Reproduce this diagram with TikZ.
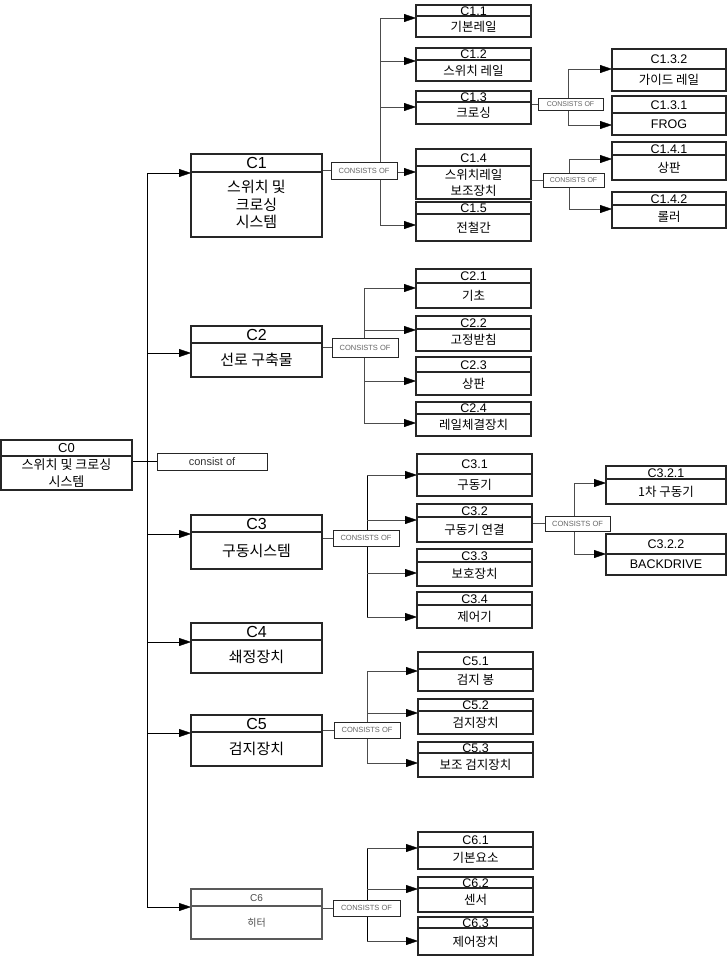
\documentclass[tikz,border=0pt]{standalone}
\usepackage{fontspec}
\setmainfont{Liberation Sans}
\newfontfamily\kr{Noto Sans CJK KR}
\usetikzlibrary{arrows.meta, backgrounds}

% box with a title row and a body row, plus the point where its arrow comes in
\newcommand{\cbox}[9]{%
    \node[head, minimum width=#4, minimum height=#5] (#1-h) at (#2,#3) {#7};
    \node[body, minimum width=#4, minimum height=#6] (#1) at (#1-h.south west) {#8};
    \coordinate (#1-in) at ([yshift=-#9]#1.north west);
}

\begin{document}
\begin{tikzpicture}[
            x = 1pt, y = -1pt, % one unit per pixel, y runs down
            > = {Triangle[length=12pt, width=8pt, color=black]}, % arrow head style
            line width = 1.3pt
        ]

        \tikzset{
            box/.style = {
                draw = black!85,
                fill = white,
                inner sep = 0pt,
                outer sep = 0pt,
                anchor = north west,
                align = center
            },
            head/.style = {box, font=\fontsize{12.5}{14}\selectfont, text height=9pt, text depth=0pt},
            body/.style = {box, font=\kr\fontsize{12.5}{16}\selectfont},
            mainlvl/.style = {
                head/.append style = {font=\fontsize{16}{18}\selectfont, text height=11.5pt},
                body/.append style = {font=\kr\fontsize{15}{17.5}\selectfont}
            },
            consists/.style = {
                draw = black!85,
                fill = white,
                line width = 1pt,
                inner sep = 0pt,
                font = \fontsize{7.5}{8}\selectfont,
                text = black!60
            },
            link/.style = {draw=black!70},
            trunk/.style = {draw=black}
        }

        \useasboundingbox (0,0) rectangle (728,956);

        % root
        \begin{scope}[head/.append style={font=\fontsize{13}{15}\selectfont, text height=9.5pt},
                      body/.append style={font=\kr\fontsize{13}{17}\selectfont}]
        \cbox{c0}{1}{440}{131}{16}{34}{C0}{스위치 및 크로싱\\시스템}{0}
        \end{scope}
        \node[consists, minimum width=110, minimum height=17, font=\fontsize{11}{12}\selectfont, text=black!80] (cons) at (212,461.5) {consist of};

        % first level
        \begin{scope}[mainlvl]
        \cbox{c1}{191}{154}{131}{18}{65}{C1}{스위치 및\\크로싱\\시스템}{1}
        \cbox{c2}{191}{326}{131}{17}{34}{C2}{선로 구축물}{10}
        \cbox{c3}{191}{515}{131}{17}{37}{C3}{구동시스템}{2}
        \cbox{c4}{191}{623}{131}{17}{33}{C4}{쇄정장치}{2}
        \cbox{c5}{191}{715}{131}{17}{34}{C5}{검지장치}{1}
        \end{scope}
        \begin{scope}[head/.append style={font=\fontsize{10}{12}\selectfont, text=black!70, text height=7pt},
                      body/.append style={font=\kr\fontsize{10}{12}\selectfont, text=black!70},
                      box/.append style={draw=black!65}]
        \cbox{c6}{191}{889}{131}{17}{33}{C6}{히터}{1}
        \end{scope}

        % second level
        \cbox{c11}{416}{5}{115}{11}{21}{C1.1}{기본레일}{2}
        \cbox{c12}{416}{48}{115}{12}{21}{C1.2}{스위치 레일}{1}
        \cbox{c13}{416}{91}{115}{11}{22}{C1.3}{크로싱}{5}
        \cbox{c14}{416}{149}{115}{17}{33}{C1.4}{스위치레일\\보조장치}{6}
        \cbox{c15}{416}{202}{115}{12}{27}{C1.5}{전철간}{11}

        \cbox{c21}{416}{269}{115}{14}{25}{C2.1}{기초}{5}
        \cbox{c22}{416}{316}{115}{13}{22}{C2.2}{고정받침}{1}
        \cbox{c23}{416}{357}{115}{15}{23}{C2.3}{상판}{9}
        \cbox{c24}{416}{402}{115}{12}{22}{C2.4}{레일체결장치}{9}

        \cbox{c31}{417}{454}{115}{20}{22}{C3.1}{구동기}{1}
        \cbox{c32}{417}{504}{115}{13}{25}{C3.2}{구동기 연결}{3}
        \cbox{c33}{417}{549}{115}{13}{24}{C3.3}{보호장치}{11}
        \cbox{c34}{417}{592}{115}{13}{23}{C3.4}{제어기}{12}

        \cbox{c51}{418}{652}{115}{17}{22}{C5.1}{검지 봉}{2}
        \cbox{c52}{418}{699}{115}{12}{23}{C5.2}{검지장치}{2}
        \cbox{c53}{418}{742}{115}{11}{24}{C5.3}{보조 검지장치}{10}

        \cbox{c61}{418}{832}{115}{15}{22}{C6.1}{기본요소}{1}
        \cbox{c62}{418}{877}{115}{11}{24}{C6.2}{센서}{1}
        \cbox{c63}{418}{917}{115}{11}{27}{C6.3}{제어장치}{13}

        % third level
        \cbox{c132}{612}{49}{114}{20}{22}{C1.3.2}{가이드 레일}{0}
        \cbox{c131}{612}{96}{114}{17}{22}{C1.3.1}{\normalfont FROG}{12}
        \cbox{c141}{612}{142}{114}{13}{25}{C1.4.1}{상판}{4}
        \cbox{c142}{612}{192}{114}{13}{23}{C1.4.2}{롤러}{4}
        \cbox{c321}{606}{466}{120}{13}{25}{C3.2.1}{1차 구동기}{4}
        \cbox{c322}{606}{534}{120}{20}{21}{C3.2.2}{\normalfont BACKDRIVE}{0}

        % labels on the branch points
        \node[consists, minimum width=66, minimum height=17] (c1of) at (364,170.5) {CONSISTS OF};
        \node[consists, minimum width=65, minimum height=12, font=\fontsize{7}{8}\selectfont] (c13of) at (570.5,104) {CONSISTS OF};
        \node[consists, minimum width=61, minimum height=14, font=\fontsize{7}{8}\selectfont] (c14of) at (573.5,180) {CONSISTS OF};
        \node[consists, minimum width=66, minimum height=19] (c2of) at (365,347.5) {CONSISTS OF};
        \node[consists, minimum width=66, minimum height=16] (c3of) at (366,538) {CONSISTS OF};
        \node[consists, minimum width=65, minimum height=15] (c32of) at (577.5,523.5) {CONSISTS OF};
        \node[consists, minimum width=66, minimum height=16] (c5of) at (367,730) {CONSISTS OF};
        \node[consists, minimum width=67, minimum height=16] (c6of) at (366.5,908) {CONSISTS OF};

        \coordinate (trunk) at (147,0);
        \coordinate (c1bus) at (380,0);
        \coordinate (c13bus) at (568,0);
        \coordinate (c14bus) at (569,0);
        \coordinate (c2bus) at (364,0);
        \coordinate (c3bus) at (367,0);
        \coordinate (c32bus) at (574,0);
        \coordinate (c5bus) at (367,0);
        \coordinate (c6bus) at (367,0);

        \begin{scope}[on background layer]
            \fill[white] (0,0) rectangle (728,956);

            \draw[trunk] (c0.east |- cons.west) -- (cons.west);
            \draw[trunk] (trunk |- c1-in) -- (trunk |- c6-in);
            \foreach \n in {c1,c2,c3,c4,c5,c6}
                \draw[trunk, ->] (trunk |- \n-in) -- (\n-in);

            \draw[link] (c1.east |- c1of.west) -- (c1of.west);
            \draw[link] (c1bus |- c11-in) -- (c1bus |- c15-in);
            \foreach \n in {c11,c12,c13,c14,c15}
                \draw[link, ->] (c1bus |- \n-in) -- (\n-in);

            \draw[link] (c13.east |- c13of.west) -- (c13of.west);
            \draw[link] (c13bus |- c132-in) -- (c13bus |- c131-in);
            \foreach \n in {c132,c131}
                \draw[link, ->] (c13bus |- \n-in) -- (\n-in);

            \draw[link] (c14.east |- c14of.west) -- (c14of.west);
            \draw[link] (c14bus |- c141-in) -- (c14bus |- c142-in);
            \foreach \n in {c141,c142}
                \draw[link, ->] (c14bus |- \n-in) -- (\n-in);

            \draw[link] (c2.east |- c2of.west) -- (c2of.west);
            \draw[link] (c2bus |- c21-in) -- (c2bus |- c24-in);
            \foreach \n in {c21,c22,c23,c24}
                \draw[link, ->] (c2bus |- \n-in) -- (\n-in);

            \draw[link] (c3.east |- c3of.west) -- (c3of.west);
            \draw[trunk] (c3bus |- c31-in) -- (c3bus |- c34-in);
            \foreach \n in {c31,c32,c33,c34}
                \draw[link, ->] (c3bus |- \n-in) -- (\n-in);

            \draw[link] (c32.east |- c32of.west) -- (c32of.west);
            \draw[link] (c32bus |- c321-in) -- (c32bus |- c322-in);
            \foreach \n in {c321,c322}
                \draw[link, ->] (c32bus |- \n-in) -- (\n-in);

            \draw[link] (c5.east |- c5of.west) -- (c5of.west);
            \draw[link] (c5bus |- c51-in) -- (c5bus |- c53-in);
            \foreach \n in {c51,c52,c53}
                \draw[link, ->] (c5bus |- \n-in) -- (\n-in);

            \draw[link] (c6.east |- c6of.west) -- (c6of.west);
            \draw[trunk] (c6bus |- c61-in) -- (c6bus |- c63-in);
            \foreach \n in {c61,c62,c63}
                \draw[link, ->] (c6bus |- \n-in) -- (\n-in);
        \end{scope}

    \end{tikzpicture}
\end{document}
